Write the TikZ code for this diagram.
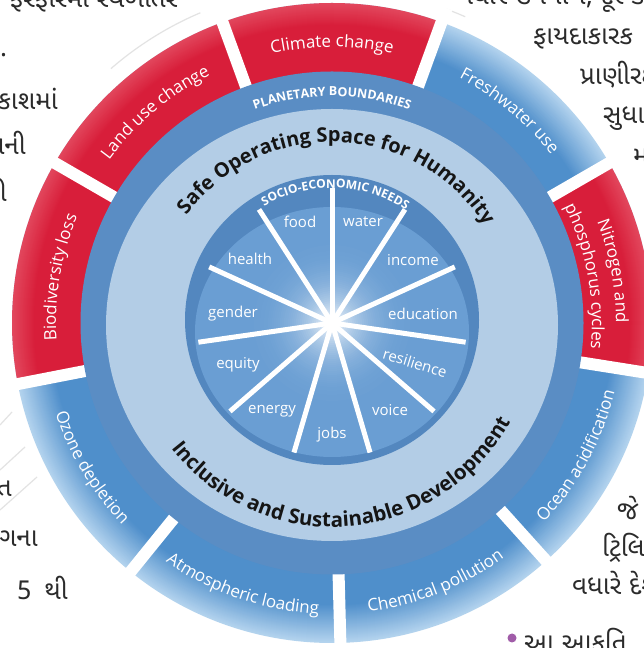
\documentclass[tikz,border=0pt]{standalone}
\usepackage{fontspec}
\setmainfont{Open Sans}
\newfontfamily\gujfont[Script=Gujarati]{Noto Sans Gujarati UI}
\usetikzlibrary{decorations.text}
\definecolor{redA}{HTML}{D81E3A}
\definecolor{redC}{HTML}{E2475D}
\definecolor{blueA}{HTML}{4F8FCB}
\definecolor{blueC}{HTML}{B3D3EE}
\definecolor{bandblue}{HTML}{5A8DC4}
\definecolor{lightblue}{HTML}{B3CDE6}
\definecolor{innerband}{HTML}{5387BF}
\definecolor{innerdisk}{HTML}{6A9ED3}
\definecolor{gujtext}{HTML}{2B2B2B}
\definecolor{bulletpurple}{HTML}{A05CA8}
\definecolor{darktext}{HTML}{151515}
\tikzset{
  needlbl/.style={text=white, font=\fontsize{15}{17}\selectfont, inner sep=0pt},
  gujl/.style={text=gujtext, font=\gujfont\fontsize{26}{30}\selectfont, inner sep=0pt, anchor=base east},
  gujr/.style={text=gujtext, font=\gujfont\fontsize{26}{30}\selectfont, inner sep=0pt, anchor=base west},
  gapline/.style={white, line width=12pt},
  spoke/.style={white, line width=5pt},
  faint/.style={gray!22, line width=1.2pt}
}
\begin{document}
\begin{tikzpicture}[x=1pt,y=1pt]
\useasboundingbox (0,0) rectangle (644,648);
\clip (0,0) rectangle (644,648);
\fill[white] (0,0) rectangle (644,648);
\coordinate (C) at (332,325);

% faint background lines
\draw[faint] (C) ++(113:337) arc[start angle=113,end angle=131,radius=337];
\draw[faint] (C) ++(66.5:334) arc[start angle=66.5,end angle=70,radius=334];
\draw[faint] (0,223) -- (12,236);
\draw[faint] (0,178) -- (25,201);
\draw[faint] (0,138) -- (37,171);

% outer ring (blue gradient)
\foreach \r in {320,319,...,251}{
  \pgfmathtruncatemacro\p{min(100,max(0,(320-\r)*100/38))}
  \fill[blueA!\p!blueC] (C) circle[radius=\r];
}
% red segments
\begin{scope}
  \clip (C) -- ++(70:345) arc[start angle=70,end angle=191,radius=345] -- cycle
        (C) -- ++(351:345) arc[start angle=351,end angle=390,radius=345] -- cycle;
  \foreach \r in {320,319,...,251}{
    \pgfmathtruncatemacro\p{min(100,max(0,(320-\r)*100/22))}
    \fill[redA!\p!redC] (C) circle[radius=\r];
  }
\end{scope}
% gaps
\foreach \a in {30,70,110,150,191,231,271.5,312,351}
  \draw[gapline] (C) ++(\a:240) -- ++(\a:95);

% planetary boundaries band
\fill[bandblue] (C) circle[radius=251.5];
% light ring
\fill[lightblue] (332,323) ellipse[x radius=226, y radius=216];
% inner band
\fill[innerband] (332,328) ellipse[x radius=147, y radius=145];
% inner disk
\fill[innerdisk] (332,316) ellipse[x radius=137, y radius=125];
\begin{scope}
  \clip (332,316) ellipse[x radius=137, y radius=125];
  \foreach \r in {100,98,...,2}{
    \pgfmathtruncatemacro\p{100*(1-\r/100)^3}
    \fill[white!\p!innerdisk] (C) circle[radius=\r];
  }
\end{scope}
% spokes
\foreach \k in {0,...,10}{
  \pgfmathsetmacro\ang{90-\k*360/11}
  \draw[spoke] (C) -- ++(\ang:135);
}

% outer ring labels
\path[decorate, decoration={text along path, text align=center, text color=white,
  text={|\fontsize{17}{20}\selectfont|Climate change}}]
  (C) ++(110:276) arc[start angle=110, end angle=70, radius=276];
\path[decorate, decoration={text along path, text align=center, text color=white,
  text={|\fontsize{17}{20}\selectfont|Freshwater use}}]
  (C) ++(70:276) arc[start angle=70, end angle=30, radius=276];
\path[decorate, decoration={text along path, text align=center, text color=white,
  text={|\fontsize{17}{20}\selectfont|Nitrogen and}}]
  (C) ++(30:284) arc[start angle=30, end angle=-9, radius=284];
\path[decorate, decoration={text along path, text align=center, text color=white,
  text={|\fontsize{17}{20}\selectfont|phosphorus cycles}}]
  (C) ++(32:260) arc[start angle=32, end angle=-11, radius=260];
\path[decorate, decoration={text along path, text align=center, text color=white,
  text={|\fontsize{17}{20}\selectfont|Ocean acidification}}]
  (C) ++(312:291) arc[start angle=312, end angle=351, radius=291];
\path[decorate, decoration={text along path, text align=center, text color=white,
  text={|\fontsize{17}{20}\selectfont|Chemical pollution}}]
  (C) ++(271.5:291) arc[start angle=271.5, end angle=312, radius=291];
\path[decorate, decoration={text along path, text align=center, text color=white,
  text={|\fontsize{17}{20}\selectfont|Atmospheric loading}}]
  (C) ++(231:291) arc[start angle=231, end angle=271.5, radius=291];
\path[decorate, decoration={text along path, text align=center, text color=white,
  text={|\fontsize{17}{20}\selectfont|Ozone depletion}}]
  (C) ++(191:291) arc[start angle=191, end angle=231, radius=291];
\path[decorate, decoration={text along path, text align=center, text color=white,
  text={|\fontsize{17}{20}\selectfont|Biodiversity loss}}]
  (C) ++(191:276) arc[start angle=191, end angle=150, radius=276];
\path[decorate, decoration={text along path, text align=center, text color=white,
  text={|\fontsize{17}{20}\selectfont|Land use change}}]
  (C) ++(150:276) arc[start angle=150, end angle=110, radius=276];

% band texts
\path[decorate, decoration={text along path, text align=center, text color=white,
  text={|\bfseries\fontsize{12.5}{15}\selectfont|PLANETARY BOUNDARIES}}]
  (C) ++(120:227) arc[start angle=120, end angle=60, radius=227];
\path[decorate, decoration={text along path, text align=center, text color=darktext,
  text={|\bfseries\fontsize{20}{24}\selectfont|Safe Operating Space for Humanity}}]
  (C) ++(150:181) arc[start angle=150, end angle=26, radius=181];
\path[decorate, decoration={text along path, text align=center, text color=darktext,
  text={|\bfseries\fontsize{20.5}{24}\selectfont|Inclusive and Sustainable Development}}]
  (C) ++(210:204) arc[start angle=210, end angle=339, radius=204];
\path[decorate, decoration={text along path, text align=center, text color=white,
  text={|\bfseries\fontsize{12}{14}\selectfont|SOCIO-ECONOMIC NEEDS}}]
  (C) ++(130:135) arc[start angle=130, end angle=47, radius=135];

% socio-economic needs
\node[needlbl] (food) at (300,426) {food};
\node[needlbl] (water) at (363,426) {water};
\node[needlbl] (income) at (413,388) {income};
\node[needlbl] (education) at (423,334) {education};
\node[needlbl, rotate=-17] (resilience) at (415,285) {resilience};
\node[needlbl] (voice) at (390,238) {voice};
\node[needlbl] (jobs) at (332,213) {jobs};
\node[needlbl] (energy) at (272,237) {energy};
\node[needlbl] (equity) at (238,283) {equity};
\node[needlbl] (gender) at (233,334) {gender};
\node[needlbl] (health) at (250,389) {health};

% surrounding Gujarati page text (fragments)
\node[gujr] (l1) at (10,640) {ફેરફારમાં સ્થળાંતર};
\node[gujl] (l2) at (7,591) {થાય છે.};
\node[gujl] (l3) at (58,538) {પ્રકાશમાં};
\node[gujl] (l4) at (26,493) {ઉપયોગની};
\node[gujl] (l5) at (7,446) {થઈ શકી};
\node[gujl] (l6) at (12,151) {સતત};
\node[gujl] (l7) at (38,101) {ભાગના};
\node[gujr] (l8) at (17,48) {5\hspace{0.5em}થી};
\node[gujr] (r1) at (458,643) {વધારે ઉપયોગ, દૂર કરે};
\node[gujr] (r2) at (533,603) {ફાયદાકારક};
\node[gujr] (r3) at (580,563) {પ્રાણીરક્ષણ};
\node[gujr] (r4) at (603,524) {સુધારો};
\node[gujr] (r5) at (633,483) {મદદ};
\node[gujr] (r6) at (617,128) {જે};
\node[gujr] (r7) at (602,91) {ટ્રિલિયન};
\node[gujr] (r8) at (572,53) {વધારે દેશો};
\node[circle, fill=bulletpurple, minimum size=9pt, inner sep=0pt] (bullet) at (512,10) {};
\node[gujr] (r9) at (524,-4) {આ આકૃતિ};
\end{tikzpicture}
\end{document}
